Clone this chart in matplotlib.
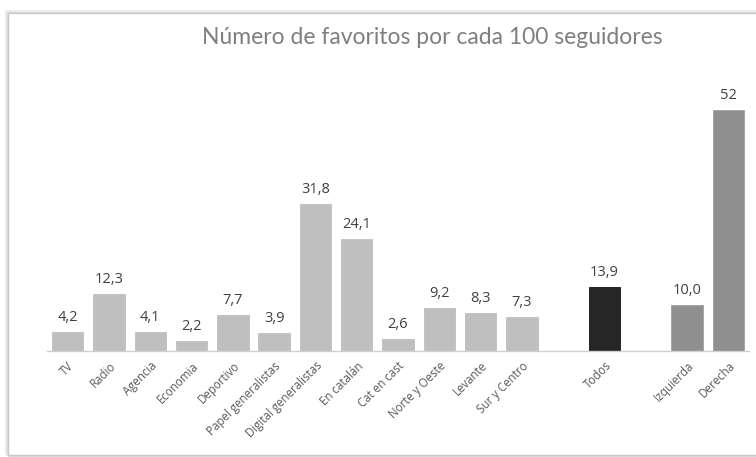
import numpy as np
import matplotlib.pyplot as plt
from matplotlib.patches import Rectangle

# Datos: favoritos por cada 100 seguidores
categorias = ['TV', 'Radio', 'Agencia', 'Economia', 'Deportivo', 'Papel generalistas',
              'Digital generalistas', 'En catalán', 'Cat en cast', 'Norte y Oeste',
              'Levante', 'Sur y Centro', 'Todos', 'Izquierda', 'Derecha']
valores = [4.2, 12.3, 4.1, 2.2, 7.7, 3.9, 31.8, 24.1, 2.6, 9.2, 8.3, 7.3, 13.9, 10.0, 52]
etiquetas = ['4,2', '12,3', '4,1', '2,2', '7,7', '3,9', '31,8', '24,1', '2,6', '9,2',
             '8,3', '7,3', '13,9', '10,0', '52']
# huecos entre grupos: medios | todos | ideología
posiciones = list(range(12)) + [13, 15, 16]
colores = ['#bfbfbf'] * 12 + ['#262626', '#8f8f8f', '#8f8f8f']

fig = plt.figure(figsize=(7.56, 4.57), dpi=100)
fig.patch.set_facecolor('white')

# tarjeta con sombra
for i, (c, lw) in enumerate([('#ececec', 5), ('#dcdcdc', 2.5), ('#c8c8c8', 1)]):
    fig.patches.append(Rectangle((8 / 756, 2 / 457), 1.2, 442 / 457,
                                 transform=fig.transFigure, facecolor='white' if i == 2 else 'none',
                                 edgecolor=c, linewidth=lw, zorder=-10 + i))

ax = fig.add_axes([47 / 756, 106 / 457, 702 / 756, 278 / 457])
ax.set_facecolor('none')
barras = ax.bar(posiciones, valores, width=0.76, color=colores,
                edgecolor=['#bfbfbf'] * 12 + ['#111111', '#a0a0a0', '#a0a0a0'], linewidth=0.6)

for x, v, t in zip(posiciones, valores, etiquetas):
    ax.text(x, v + 1.5, t, ha='center', va='bottom', fontsize=10.5, color='#404040',
            family='Open Sans')

ax.set_xlim(-0.5, 16.5)
ax.set_ylim(0, 60)
ax.set_xticks(posiciones)
ax.set_xticklabels(categorias, rotation=45, ha='right', rotation_mode='anchor',
                   fontsize=8.3, color='#595959', family='Open Sans')
ax.tick_params(axis='x', length=0, pad=6)
ax.set_yticks([])
for lado in ['top', 'right', 'left']:
    ax.spines[lado].set_visible(False)
ax.spines['bottom'].set_color('#d0d0d0')
ax.spines['bottom'].set_linewidth(1)

fig.text(432 / 756, 1 - 38 / 457, 'Número de favoritos por cada 100 seguidores',
         ha='center', va='center', fontsize=16.5, color='#7f7f7f', family='Lato')

plt.savefig('out.png', dpi=100)
